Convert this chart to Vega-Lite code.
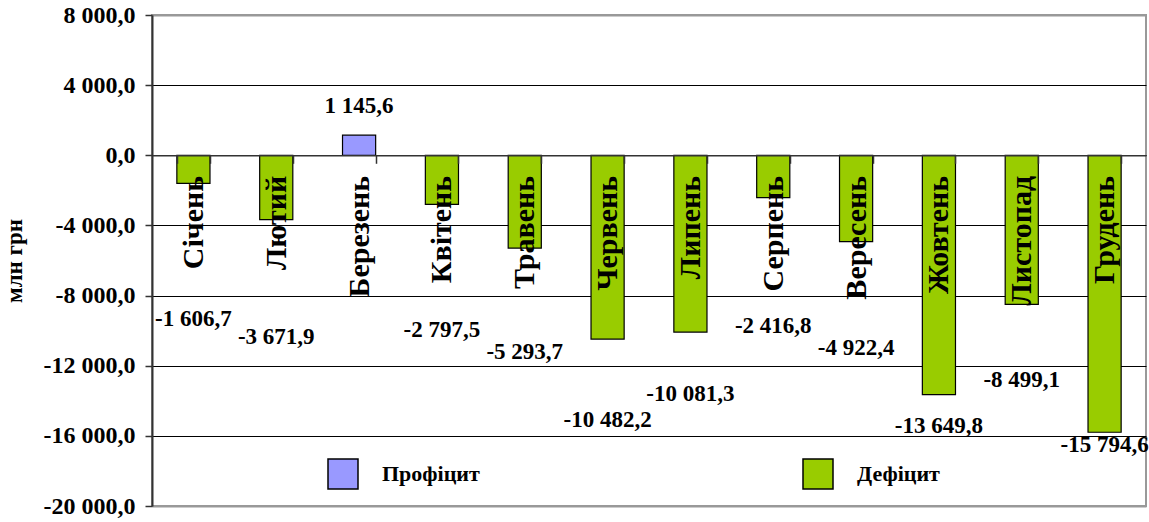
{
  "$schema": "https://vega.github.io/schema/vega-lite/v6.json",
  "width": 994,
  "height": 491,
  "autosize": {"type": "none"},
  "padding": {"left": 152, "top": 15, "right": 3, "bottom": 16},
  "background": "white",
  "config": {
    "locale": {"number": {"decimal": ",", "thousands": " ", "grouping": [3], "currency": ["", ""], "minus": "-"}},
    "view": {"stroke": "#999999", "strokeWidth": 2},
    "font": "Liberation Serif"
  },
  "data": {
    "values": [
      {"month": "Січень", "value": -1606.7, "type": "Дефіцит"},
      {"month": "Лютий", "value": -3671.9, "type": "Дефіцит"},
      {"month": "Березень", "value": 1145.6, "type": "Профіцит"},
      {"month": "Квітень", "value": -2797.5, "type": "Дефіцит"},
      {"month": "Травень", "value": -5293.7, "type": "Дефіцит"},
      {"month": "Червень", "value": -10482.2, "type": "Дефіцит"},
      {"month": "Липень", "value": -10081.3, "type": "Дефіцит"},
      {"month": "Серпень", "value": -2416.8, "type": "Дефіцит"},
      {"month": "Вересень", "value": -4922.4, "type": "Дефіцит"},
      {"month": "Жовтень", "value": -13649.8, "type": "Дефіцит"},
      {"month": "Листопад", "value": -8499.1, "type": "Дефіцит"},
      {"month": "Грудень", "value": -15794.6, "type": "Дефіцит"}
    ]
  },
  "encoding": {
    "x": {
      "field": "month",
      "type": "nominal",
      "sort": null,
      "scale": {"paddingInner": 0.6, "paddingOuter": 0.3},
      "axis": {
        "title": null,
        "orient": "bottom",
        "offset": {"expr": "-height*5/7"},
        "zindex": 1,
        "labelAngle": 270,
        "labelFont": "Liberation Serif",
        "labelFontSize": 30,
        "labelFontWeight": "bold",
        "labelColor": "#000000",
        "labelPadding": 12,
        "labelLimit": 400,
        "labelOverlap": false,
        "tickSize": 8,
        "tickColor": "#333333",
        "tickWidth": 1.5,
        "tickBand": "extent",
        "domainColor": "#333333",
        "domainWidth": 1.5
      }
    }
  },
  "layer": [
    {
      "mark": {"type": "bar", "stroke": "#000000", "strokeWidth": 1.2},
      "encoding": {
        "y": {
          "field": "value",
          "type": "quantitative",
          "scale": {"domain": [-20000, 8000], "nice": false},
          "axis": {
            "values": [8000, 4000, 0, -4000, -8000, -12000, -16000, -20000],
            "format": ",.1f",
            "title": "млн грн",
            "titleFont": "Liberation Serif",
            "titleFontSize": 23,
            "titleFontWeight": "bold",
            "titleColor": "#000000",
            "titlePadding": 17,
            "labelFont": "Liberation Serif",
            "labelFontSize": 24,
            "labelFontWeight": "bold",
            "labelColor": "#000000",
            "labelPadding": 10,
            "tickSize": 7,
            "tickColor": "#333333",
            "tickWidth": 1.5,
            "domainColor": "#333333",
            "domainWidth": 2,
            "grid": true,
            "gridColor": {"condition": {"test": "datum.value === 8000 || datum.value === -20000", "value": "#999999"}, "value": "#000000"},
            "gridWidth": {"condition": {"test": "datum.value === 8000 || datum.value === -20000", "value": 2}, "value": 1}
          }
        },
        "fill": {
          "field": "type",
          "type": "nominal",
          "scale": {"domain": ["Профіцит", "Дефіцит"], "range": ["#9999FF", "#99CC00"]},
          "legend": {
            "title": null,
            "orient": "none",
            "legendX": 175,
            "legendY": 443,
            "direction": "horizontal",
            "padding": 0,
            "symbolType": "square",
            "symbolSize": 900,
            "symbolStrokeColor": "#000000",
            "symbolStrokeWidth": 1.5,
            "labelFont": "Liberation Serif",
            "labelFontSize": 22,
            "labelFontWeight": "bold",
            "labelColor": "#000000",
            "labelOffset": 23,
            "columnPadding": 320
          }
        }
      }
    },
    {
      "transform": [{"filter": "datum.value > 0"}],
      "mark": {"type": "text", "font": "Liberation Serif", "fontWeight": "bold", "fontSize": 23, "baseline": "middle", "dy": -29, "color": "#000000"},
      "encoding": {
        "y": {"field": "value", "type": "quantitative", "scale": {"domain": [-20000, 8000], "nice": false}, "axis": null},
        "text": {"field": "value", "type": "quantitative", "format": ",.1f"}
      }
    },
    {
      "transform": [{"filter": "datum.value < 0"}],
      "mark": {"type": "text", "font": "Liberation Serif", "fontWeight": "bold", "fontSize": 23, "baseline": "middle", "color": "#000000", "dy": {"expr": "datum.month === 'Червень' ? 22 : 0"}},
      "encoding": {
        "y": {"field": "value", "type": "quantitative", "scale": {"domain": [-22700, 32700], "nice": false, "zero": false}, "axis": null},
        "text": {"field": "value", "type": "quantitative", "format": ",.1f"}
      }
    }
  ],
  "resolve": {"scale": {"y": "independent"}}
}
